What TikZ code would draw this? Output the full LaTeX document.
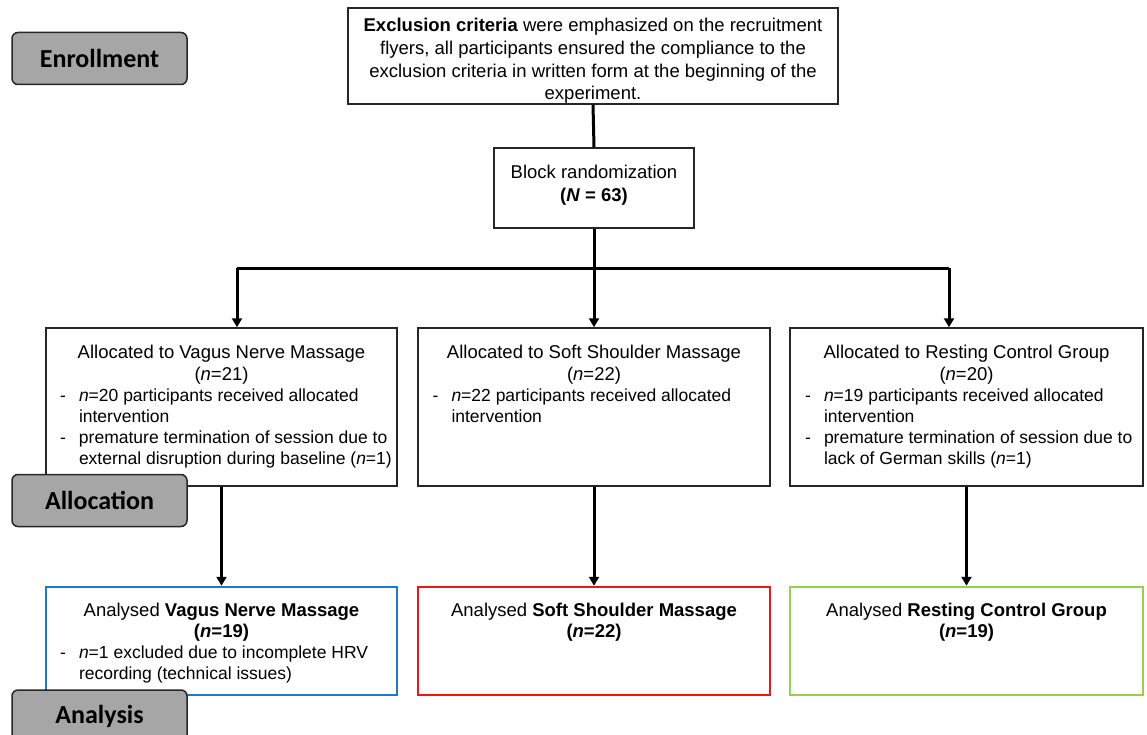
\documentclass[tikz,border=0pt]{standalone}
\usepackage{fontspec}
\setmainfont{Liberation Sans}
\newfontfamily\carlito{Carlito}
\usetikzlibrary{arrows.meta}
\definecolor{phasegray}{HTML}{A6A6A6}
\definecolor{vnblue}{HTML}{1F78CC}
\definecolor{ssred}{HTML}{F01414}
\definecolor{rcgreen}{HTML}{92D050}
\newcommand{\ctr}[1]{{\centering\fontsize{18.5}{21.2}\selectfont #1\par}}
\newcommand{\itm}[1]{{\fontsize{17.5}{21.2}\selectfont\noindent\hangindent=57.5pt\hangafter=1\hspace*{38.5pt}\makebox[19pt][l]{-}#1\par}}
\newcommand{\boxtext}[1]{\begin{minipage}{400pt}\fontsize{18}{21.2}\selectfont\raggedright #1\end{minipage}}
\begin{document}
\begin{tikzpicture}[x=1pt,y=-1pt,
  box/.style={draw=black!85, line width=1.5pt, inner sep=0pt},
  txt/.style={inner sep=0pt, font=\fontsize{18}{21.2}\selectfont},
  phase/.style={draw=black!85, fill=phasegray, rounded corners=6pt, line width=1.5pt,
    font=\carlito\bfseries\fontsize{26}{30}\selectfont, minimum width=175, minimum height=52, inner sep=0pt},
  conn/.style={line width=3pt},
  arr/.style={conn, -{Triangle[width=10pt,length=9pt]}},
]
\useasboundingbox (0,0) rectangle (1147,735);

% top boxes
\node[box, minimum width=490, minimum height=96] (excl) at (593,56) {};
\node[txt, align=center, font=\fontsize{18.5}{22.7}\selectfont] (exclt) at (593,61)
  {\textbf{Exclusion criteria} were emphasized on the recruitment\\
   flyers, all participants ensured the compliance to the\\
   exclusion criteria in written form at the beginning of the\\
   experiment.};
\node[box, minimum width=200, minimum height=80] (block) at (594,188) {};
\node[txt, align=center, font=\fontsize{18.5}{23}\selectfont] (blockt) at (594,185) {Block randomization\\\textbf{(\textit{N} = 63)}};

% allocation boxes
\node[box, minimum width=351, minimum height=158] (a1) at (221.5,407) {};
\node[box, minimum width=352, minimum height=158] (a2) at (594,407) {};
\node[box, minimum width=353, minimum height=158] (a3) at (966.5,407) {};

\node[txt, anchor=north] (a1t) at ([yshift=-18pt]a1.north)
  {\boxtext{\ctr{Allocated to Vagus Nerve Massage\\(\textit{n}=21)}%
   \itm{\textit{n}=20 participants received allocated\newline intervention}%
   \itm{premature termination of session due to\newline external disruption during baseline (\textit{n}=1)}}};
\node[txt, anchor=north] (a2t) at ([yshift=-18pt]a2.north)
  {\boxtext{\ctr{Allocated to Soft Shoulder Massage\\(\textit{n}=22)}%
   \itm{\textit{n}=22 participants received allocated\newline intervention}}};
\node[txt, anchor=north] (a3t) at ([yshift=-18pt]a3.north)
  {\boxtext{\ctr{Allocated to Resting Control Group\\(\textit{n}=20)}%
   \itm{\textit{n}=19 participants received allocated\newline intervention}%
   \itm{premature termination of session due to\newline lack of German skills (\textit{n}=1)}}};

% analysis boxes
\node[draw=vnblue, line width=2.5pt, minimum width=351, minimum height=108, inner sep=0pt] (b1) at (221.5,641) {};
\node[draw=ssred, line width=2.5pt, minimum width=352, minimum height=108, inner sep=0pt] (b2) at (594,641) {};
\node[draw=rcgreen, line width=2.5pt, minimum width=353, minimum height=108, inner sep=0pt] (b3) at (966.5,641) {};

\node[txt, anchor=north] (b1t) at ([yshift=-17pt]b1.north)
  {\boxtext{\ctr{Analysed \textbf{Vagus Nerve Massage}\\\textbf{(\textit{n}=19)}}%
   \itm{\textit{n}=1 excluded due to incomplete HRV\newline recording (technical issues)}}};
\node[txt, anchor=north] (b2t) at ([yshift=-17pt]b2.north)
  {\boxtext{\ctr{Analysed \textbf{Soft Shoulder Massage}\\\textbf{(\textit{n}=22)}}}};
\node[txt, anchor=north] (b3t) at ([yshift=-17pt]b3.north)
  {\boxtext{\ctr{Analysed \textbf{Resting Control Group}\\\textbf{(\textit{n}=19)}}}};

% connectors
\coordinate (jm) at (594,268);
\coordinate (jl) at (237,268);
\coordinate (jr) at (949,268);
\draw[conn] (excl.south) -- (block.north);
\draw[conn] (block.south) -- (jm);
\draw[conn] (jl) -- (jr);
\draw[arr] (jl) -- (jl |- a1.north);
\draw[arr] (jm) -- (a2.north);
\draw[arr] (jr) -- (jr |- a3.north);
\draw[arr] (a1.south) -- (b1.north);
\draw[arr] (a2.south) -- (b2.north);
\draw[arr] (a3.south) -- (b3.north);

% phase labels
\node[phase] (enr) at (99.5,58.5) {Enrollment};
\node[phase] (alc) at (99.5,500.5) {Allocation};
\node[phase] (ana) at (99.5,716) {Analysis};
\end{tikzpicture}
\end{document}
